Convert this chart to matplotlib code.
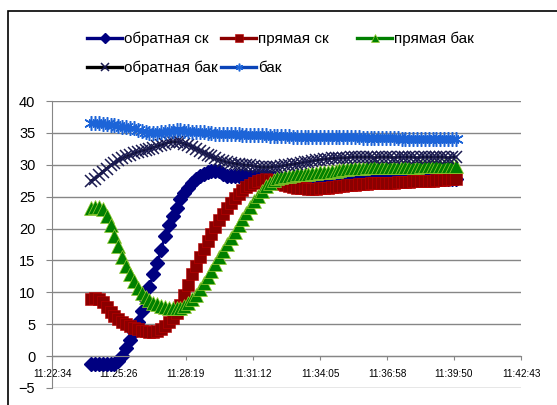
import matplotlib
matplotlib.use("Agg")
import matplotlib.pyplot as plt
from matplotlib.lines import Line2D
from matplotlib.patches import Rectangle

plt.rcParams['font.family'] = ['Liberation Sans', 'DejaVu Sans']

# readings every 10 s starting 11:24:15
start = 11*3600 + 24*60 + 15
step = 10

obr_sk = [-1.3, -1.3, -1.3, -1.3, -1.2, -1.2, -1.2, -0.8, 0.0, 1.2,
          2.5, 3.8, 5.3, 7.0, 8.8, 10.8, 12.8, 14.6, 16.6, 18.8,
          20.6, 22.0, 23.3, 24.6, 25.6, 26.4, 27.1, 27.7, 28.2, 28.6,
          28.9, 29.1, 29.1, 29.0, 28.6, 28.3, 28.2, 28.2, 28.3, 28.2,
          28.3, 28.3, 28.2, 28.3, 28.2, 28.2, 28.1, 28.0, 27.9, 27.8,
          27.7, 27.7, 27.6, 27.6, 27.5, 27.5, 27.5, 27.5, 27.4, 27.4,
          27.4, 27.4, 27.4, 27.5, 27.5, 27.5, 27.5, 27.5, 27.5, 27.6,
          27.6, 27.6, 27.6, 27.6, 27.6, 27.6, 27.7, 27.7, 27.7, 27.7,
          27.7, 27.7, 27.7, 27.8, 27.8, 27.8, 27.8, 27.8, 27.8, 27.8,
          27.8, 27.8, 27.8, 27.8, 27.8]

pr_sk = [9.0, 9.1, 9.0, 8.5, 7.7, 6.9, 6.3, 5.8, 5.4, 5.0,
         4.7, 4.4, 4.2, 4.0, 3.9, 3.8, 3.8, 3.9, 4.2, 4.7,
         5.3, 6.0, 6.8, 8.0, 9.6, 11.2, 12.8, 14.2, 15.5, 16.8,
         18.0, 19.2, 20.3, 21.3, 22.3, 23.2, 24.0, 24.8, 25.4, 26.0,
         26.5, 26.9, 27.2, 27.5, 27.6, 27.7, 27.6, 27.4, 27.2, 27.0,
         26.8, 26.6, 26.5, 26.4, 26.3, 26.3, 26.2, 26.2, 26.2, 26.3,
         26.3, 26.4, 26.5, 26.5, 26.6, 26.7, 26.8, 26.8, 26.9, 27.0,
         27.0, 27.0, 27.1, 27.1, 27.1, 27.2, 27.2, 27.2, 27.2, 27.3,
         27.3, 27.3, 27.3, 27.4, 27.4, 27.4, 27.5, 27.5, 27.5, 27.6,
         27.6, 27.6, 27.7, 27.7, 27.7]

pr_bak = [23.3, 23.4, 23.4, 23.0, 22.0, 20.5, 18.8, 17.2, 15.6, 14.2,
          12.9, 11.7, 10.7, 9.9, 9.3, 8.8, 8.4, 8.1, 7.9, 7.7,
          7.6, 7.5, 7.5, 7.6, 7.9, 8.3, 8.9, 9.6, 10.5, 11.4,
          12.4, 13.4, 14.5, 15.5, 16.5, 17.5, 18.5, 19.5, 20.5, 21.5,
          22.5, 23.4, 24.3, 25.1, 25.9, 26.6, 27.2, 27.6, 27.9, 28.1,
          28.2, 28.3, 28.4, 28.5, 28.5, 28.6, 28.6, 28.7, 28.7, 28.8,
          28.8, 28.9, 29.0, 29.1, 29.2, 29.3, 29.4, 29.5, 29.5, 29.5,
          29.5, 29.6, 29.6, 29.6, 29.6, 29.6, 29.6, 29.7, 29.7, 29.7,
          29.7, 29.7, 29.7, 29.7, 29.7, 29.8, 29.8, 29.8, 29.8, 29.8,
          29.8, 29.8, 29.8, 29.8, 29.8]

obr_bak = [27.5, 27.8, 28.4, 28.9, 29.4, 29.9, 30.3, 30.7, 31.0, 31.3,
           31.5, 31.8, 32.0, 32.2, 32.3, 32.5, 32.7, 32.9, 33.1, 33.3,
           33.5, 33.6, 33.6, 33.5, 33.3, 33.1, 32.8, 32.5, 32.2, 31.9,
           31.6, 31.3, 31.0, 30.8, 30.6, 30.4, 30.3, 30.2, 30.1, 30.0,
           29.9, 29.9, 29.8, 29.7, 29.6, 29.6, 29.6, 29.7, 29.7, 29.8,
           29.9, 30.0, 30.1, 30.2, 30.3, 30.4, 30.5, 30.6, 30.7, 30.8,
           30.9, 30.9, 31.0, 31.0, 31.1, 31.1, 31.1, 31.2, 31.2, 31.2,
           31.2, 31.2, 31.2, 31.1, 31.2, 31.2, 31.2, 31.2, 31.1, 31.2,
           31.2, 31.2, 31.2, 31.2, 31.1, 31.2, 31.2, 31.2, 31.2, 31.2,
           31.2, 31.2, 31.1, 31.2, 31.2]

bak = [36.5, 36.5, 36.5, 36.4, 36.4, 36.3, 36.2, 36.1, 36.0, 35.9,
       35.8, 35.7, 35.5, 35.3, 35.1, 35.0, 35.0, 35.0, 35.1, 35.2,
       35.3, 35.3, 35.4, 35.4, 35.3, 35.3, 35.2, 35.2, 35.1, 35.1,
       35.0, 35.0, 34.9, 34.9, 34.9, 34.8, 34.8, 34.8, 34.8, 34.7,
       34.7, 34.7, 34.7, 34.6, 34.6, 34.6, 34.5, 34.5, 34.5, 34.5,
       34.5, 34.5, 34.4, 34.4, 34.4, 34.4, 34.4, 34.4, 34.4, 34.4,
       34.3, 34.3, 34.3, 34.3, 34.3, 34.3, 34.3, 34.3, 34.3, 34.3,
       34.2, 34.2, 34.2, 34.2, 34.2, 34.2, 34.2, 34.2, 34.2, 34.2,
       34.1, 34.1, 34.1, 34.1, 34.1, 34.1, 34.1, 34.1, 34.1, 34.1,
       34.1, 34.1, 34.1, 34.1, 34.1]

tick_labels = ["11:22:34", "11:25:26", "11:28:19", "11:31:12",
               "11:34:05", "11:36:58", "11:39:50", "11:42:43"]


def to_sec(s):
    h, m, sec = s.split(":")
    return int(h)*3600 + int(m)*60 + int(sec)


t = [start + step*i for i in range(len(obr_sk))]
ticks = [to_sec(s) for s in tick_labels]

fig = plt.figure(figsize=(5.57, 4.05), dpi=100)
ax = fig.add_axes([0.0934, 0.042, 0.842, 0.7086])

styles = [
    ("обратная ск", obr_sk, dict(color="#000080", marker="D", ms=7,
                                 mfc="#000080", mec="#000080")),
    ("прямая ск", pr_sk, dict(color="#8b0000", marker="s", ms=8.5,
                              mfc="#8b0000", mec="#c00000", mew=0.4)),
    ("прямая бак", pr_bak, dict(color="#008000", marker="^", ms=9.5,
                                mfc="#008000", mec="#9acd32", mew=0.5)),
    ("обратная бак", obr_bak, dict(color="black", marker="x", ms=8,
                                   mec="#1a1a50", mew=1.1)),
    ("бак", bak, dict(color="#0a44b8", marker=(6, 2, 0), ms=10.5,
                      mec="#1c64d8", mew=1.1)),
]

handles = []
for name, vals, st in styles:
    ax.plot(t, vals, lw=2, label=name, **st)
    h = Line2D([], [], lw=2.4, color=st["color"], marker=st["marker"],
               ms=5.5, mfc=st.get("mfc", st["color"]),
               mec=st.get("mec", st["color"]), mew=st.get("mew", 1.0))
    handles.append(h)

ax.set_xlim(ticks[0], ticks[-1])
ax.set_ylim(-5, 40)
ax.set_yticks(range(-5, 41, 5))
ax.set_xticks(ticks)
ax.set_xticklabels(tick_labels, fontweight="bold")

grey = "#868686"
ax.grid(axis="y", color=grey, lw=1)
ax.set_axisbelow(True)
for side in ["top", "right"]:
    ax.spines[side].set_visible(False)
ax.spines["bottom"].set_position(("data", 0))
ax.spines["bottom"].set_color(grey)
ax.spines["left"].set_color(grey)
ax.tick_params(axis="y", direction="out", length=4, color=grey,
               labelsize=10.5, pad=8)
ax.tick_params(axis="x", direction="out", length=3, color=grey,
               labelsize=7.2, pad=6)

# legend entries placed one by one (left edge of key, row centre) in pixels
W, H = 557, 405
legend_pos = [(87, 39), (221, 39), (357, 39), (87, 68), (221, 68)]
for h, (name, _, _), (x, y) in zip(handles, styles, legend_pos):
    fig.legend([h], [name], frameon=False, loc="center left",
               bbox_to_anchor=(x / W, 1 - y / H), fontsize=11,
               handlelength=2.3, handletextpad=0.12, borderpad=0,
               borderaxespad=0)

# chart frame
fig.patches.append(Rectangle((0.0152, -0.2), 1.5, 1.1725,
                             transform=fig.transFigure, fill=False,
                             lw=1.2, ec="black"))

plt.savefig("out.png", dpi=100)
